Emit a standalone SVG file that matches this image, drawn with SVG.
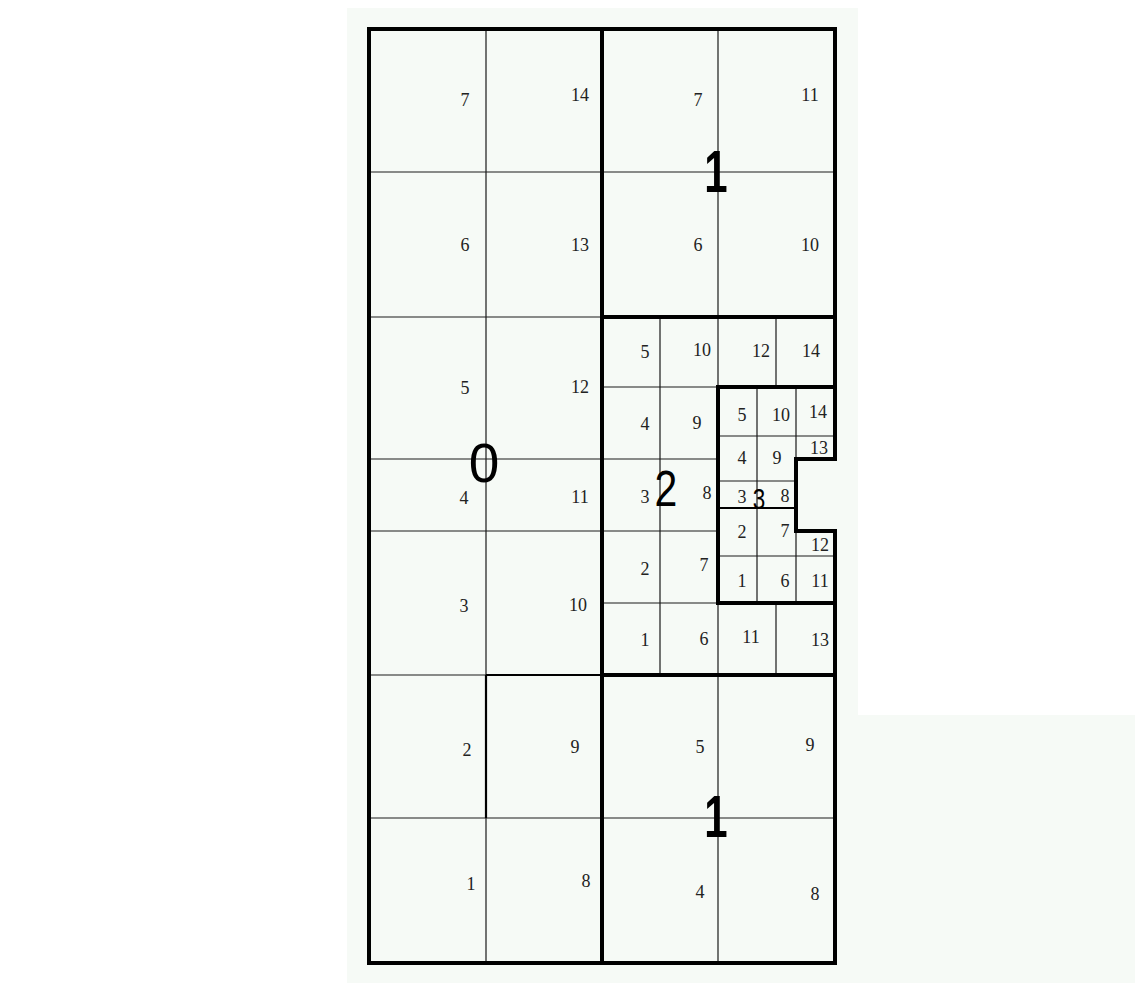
<svg xmlns="http://www.w3.org/2000/svg" width="1135" height="983" viewBox="0 0 1135 983">
<style>
.thin{stroke:#1a1a1a;stroke-width:1.2;fill:none}
.med{stroke:#000;stroke-width:2.2;fill:none}
.thick{stroke:#000;stroke-width:4;fill:none;stroke-linecap:square}
.n{font-family:"Liberation Serif",serif;font-size:18px;fill:#222;text-anchor:middle}
.big{font-family:"Liberation Sans",sans-serif;fill:#000;text-anchor:middle}
</style>
<rect width="1135" height="983" fill="#fff"/>
<rect x="347" y="8" width="511" height="975" fill="#f6faf6"/>
<rect x="858" y="715" width="277" height="268" fill="#f6faf6"/>
<g id="connectors">
<g class="thin">
<path d="M486,29V675M486,818V963"/>
<path d="M718,29V317"/>
<path d="M369,172H835"/>
<path d="M369,317H602M369,459H602M369,531H602M369,675H486M369,818H835"/>
<path d="M718,675V963"/>
<path d="M660,317V675M718,317V387M718,603V675M776,317V387M776,603V675"/>
<path d="M602,387H718M602,459H718M602,531H718M602,603H718"/>
<path d="M757,387V603M796,387V459M796,531V603"/>
<path d="M718,436H835M718,481H796M718,556H835"/>
</g>
<g class="med">
<path d="M486,675V818M486,675H602"/>
<path d="M718,508H796"/>
</g>
<g class="thick">
<path d="M835,459V29H369V963H835V531"/>
<path d="M602,29V963"/>
<path d="M602,317H835M602,675H835"/>
<path d="M718,387H835V459H796V531H835V603H718Z"/>
</g>
</g>
<g id="node-0">
<text class="n" x="465" y="106">7</text>
<text class="n" x="580" y="101">14</text>
<text class="n" x="465" y="251">6</text>
<text class="n" x="580" y="251">13</text>
<text class="n" x="465" y="394">5</text>
<text class="n" x="580" y="393">12</text>
<text class="n" x="464" y="504">4</text>
<text class="n" x="580" y="503">11</text>
<text class="n" x="464" y="612">3</text>
<text class="n" x="578" y="611">10</text>
<text class="n" x="467" y="756">2</text>
<text class="n" x="575" y="753">9</text>
<text class="n" x="471" y="890">1</text>
<text class="n" x="586" y="887">8</text>
<text class="big" x="484" y="482" font-size="55">0</text>
</g>
<g id="node-1-top">
<text class="n" x="698" y="106">7</text>
<text class="n" x="810" y="101">11</text>
<text class="n" x="698" y="251">6</text>
<text class="n" x="810" y="251">10</text>
<text class="big" x="716" y="192" font-size="60" font-weight="bold" transform="translate(716 0) scale(0.7 1) translate(-716 0)">1</text>
</g>
<g id="node-1-bottom">
<text class="n" x="700" y="753">5</text>
<text class="n" x="810" y="751">9</text>
<text class="n" x="700" y="898">4</text>
<text class="n" x="815" y="900">8</text>
<text class="big" x="716" y="837" font-size="60" font-weight="bold" transform="translate(716 0) scale(0.7 1) translate(-716 0)">1</text>
</g>
<g id="node-2">
<text class="n" x="645" y="358">5</text>
<text class="n" x="702" y="356">10</text>
<text class="n" x="761" y="357">12</text>
<text class="n" x="811" y="357">14</text>
<text class="n" x="645" y="430">4</text>
<text class="n" x="697" y="429">9</text>
<text class="n" x="645" y="503">3</text>
<text class="n" x="707" y="499">8</text>
<text class="n" x="645" y="575">2</text>
<text class="n" x="704" y="571">7</text>
<text class="n" x="645" y="646">1</text>
<text class="n" x="704" y="645">6</text>
<text class="n" x="751" y="643">11</text>
<text class="n" x="820" y="646">13</text>
<text class="big" x="666" y="506" font-size="50" transform="translate(666 0) scale(0.82 1) translate(-666 0)">2</text>
</g>
<g id="node-3">
<text class="n" x="742" y="421">5</text>
<text class="n" x="781" y="421">10</text>
<text class="n" x="818" y="418">14</text>
<text class="n" x="742" y="464">4</text>
<text class="n" x="777" y="464">9</text>
<text class="n" x="819" y="454">13</text>
<text class="n" x="742" y="503">3</text>
<text class="n" x="785" y="502">8</text>
<text class="n" x="742" y="538">2</text>
<text class="n" x="785" y="537">7</text>
<text class="n" x="820" y="551">12</text>
<text class="n" x="742" y="587">1</text>
<text class="n" x="785" y="587">6</text>
<text class="n" x="820" y="587">11</text>
<text class="big" x="759" y="509" font-size="30" transform="translate(759 0) scale(0.75 1) translate(-759 0)">3</text>
</g>
</svg>
